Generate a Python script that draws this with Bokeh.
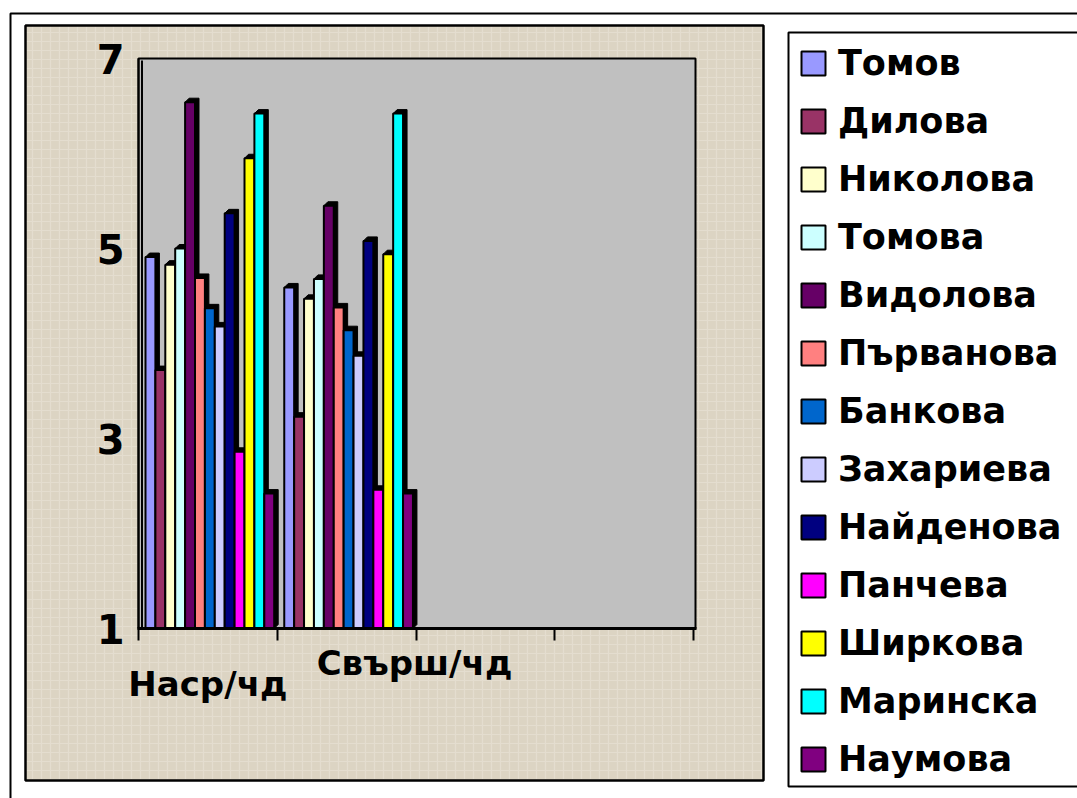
from bokeh.plotting import figure
from bokeh.models import Range1d, LinearAxis, FixedTicker, Legend, LegendItem
from bokeh.core.properties import value
from bokeh.embed import file_html
from bokeh.resources import INLINE

# ---------------- data ----------------
categories = ["Наср/чд", "Свърш/чд", "", ""]
series_names = ["Томов", "Дилова", "Николова", "Томова", "Видолова", "Първанова",
                "Банкова", "Захариева", "Найденова", "Панчева", "Ширкова",
                "Маринска", "Наумова"]
series_colors = ["#9999FF", "#993366", "#FFFFCC", "#CCFFFF", "#660066", "#FF8080",
                 "#0066CC", "#CCCCFF", "#000080", "#FF00FF", "#FFFF00",
                 "#00FFFF", "#800080"]
nasr_values = [4.91, 3.72, 4.83, 5.00, 6.54, 4.69, 4.37, 4.18, 5.37, 2.86, 5.95, 6.42, 2.42]
svarsh_values = [4.59, 3.23, 4.47, 4.68, 5.45, 4.38, 4.14, 3.87, 5.08, 2.46, 4.94, 6.42, 2.42]
y_ticks = [1, 3, 5, 7]
x_ticks = [0, 1, 2, 3, 4]

# ---------------- geometry helpers ----------------
W, H = 1077, 798
SX, SY = 138.75, 95.0          # pixels per data unit


def px2x(px):
    return (px - 138.0) / SX


def px2y(py):
    return 1.0 + (628.0 - py) / SY


FONT = value("DejaVu Sans")

p = figure(width=W, height=H, output_backend="svg", toolbar_location=None,
           x_range=Range1d(px2x(0), px2x(W)),
           y_range=Range1d(px2y(H), px2y(0)),
           x_axis_location=None, y_axis_location=None, min_border=0)
p.outline_line_color = None
p.background_fill_color = "white"
p.border_fill_color = "white"
p.xgrid.visible = False
p.ygrid.visible = False

# outer frame
p.quad(left=[px2x(10)], right=[px2x(1120)], top=[px2y(13)], bottom=[px2y(840)],
       fill_color="white", line_color="black", line_width=2)
# chart area (textured beige)
p.quad(left=[px2x(25)], right=[px2x(763)], top=[px2y(25)], bottom=[px2y(780)],
       fill_color="#DCD4C3", line_color="black", line_width=2.5,
       hatch_pattern="+", hatch_color="#EEE9DD", hatch_scale=9,
       hatch_weight=1.2, hatch_alpha=0.45)
# legend box
p.quad(left=[px2x(788)], right=[px2x(1120)], top=[px2y(32)], bottom=[px2y(786)],
       fill_color="white", line_color="black", line_width=2)

# plot area (grey wall)
p.quad(left=[0], right=[px2x(695)], bottom=[1], top=[7],
       fill_color="#C0C0C0", line_color="black", line_width=2)
p.segment(x0=[px2x(141.5)], y0=[1], x1=[px2x(141.5)], y1=[px2y(60)],
          line_color="black", line_width=2)

# ---------------- bars ----------------
bar_w = 9.9 / SX
group_off = 7.0 / SX
dx, dy = 4.0 / SX, 4.0 / SY

items = []
for i, (name, color) in enumerate(zip(series_names, series_colors)):
    vals = [nasr_values[i], svarsh_values[i]]
    lefts = [c + group_off + i * bar_w for c in range(len(vals))]
    rights = [l + bar_w for l in lefts]
    xs = [[l, l + dx, r + dx, r + dx, r, r] for l, r in zip(lefts, rights)]
    ys = [[v, v + dy, v + dy, 1 + dy, 1, v] for v in vals]
    p.patches(xs=xs, ys=ys, fill_color="black", line_color="black", line_width=1)
    r = p.quad(left=lefts, right=rights, bottom=[1] * len(vals), top=vals,
               fill_color=color, line_color="black", line_width=2)
    items.append(LegendItem(label=name, renderers=[r]))

# ---------------- axes ----------------
yaxis = LinearAxis(fixed_location=0, ticker=FixedTicker(ticks=y_ticks), bounds=(1, 7))
yaxis.major_label_text_font = "DejaVu Sans"
yaxis.major_label_text_font_style = "bold"
yaxis.major_label_text_font_size = "40px"
yaxis.major_label_text_color = "black"
yaxis.major_label_standoff = 14
yaxis.major_tick_in = 0
yaxis.major_tick_out = 0
yaxis.minor_tick_in = 0
yaxis.minor_tick_out = 0
yaxis.axis_line_width = 2
yaxis.axis_line_color = "black"
p.add_layout(yaxis, "left")

xaxis = LinearAxis(fixed_location=1, ticker=FixedTicker(ticks=x_ticks),
                   bounds=(px2x(137), px2x(696)))
xaxis.major_label_overrides = {t: "" for t in x_ticks}
xaxis.major_tick_in = 0
xaxis.major_tick_out = 12
xaxis.major_tick_line_width = 2
xaxis.major_tick_line_color = "black"
xaxis.minor_tick_in = 0
xaxis.minor_tick_out = 0
xaxis.axis_line_width = 3
xaxis.axis_line_color = "black"
p.add_layout(xaxis, "below")

# category labels (staggered, as in the original)
cat_label_x = [0.5, px2x(414)]
cat_label_y = [px2y(683), px2y(662)]
p.text(x=cat_label_x, y=cat_label_y, text=categories[:2],
       text_font=FONT, text_font_style="bold", text_font_size="34px",
       text_color="black", text_align="center", text_baseline="alphabetic")

# ---------------- legend ----------------
legend = Legend(items=items, location=(793, 12), orientation="vertical",
                padding=5, spacing=14, margin=0,
                glyph_width=30, glyph_height=30, label_standoff=10,
                label_height=44,
                label_text_font="DejaVu Sans", label_text_font_style="bold",
                label_text_font_size="35px", label_text_color="black",
                background_fill_alpha=0, border_line_alpha=0)
p.add_layout(legend)

open("out.html", "w").write(file_html(p, INLINE))
